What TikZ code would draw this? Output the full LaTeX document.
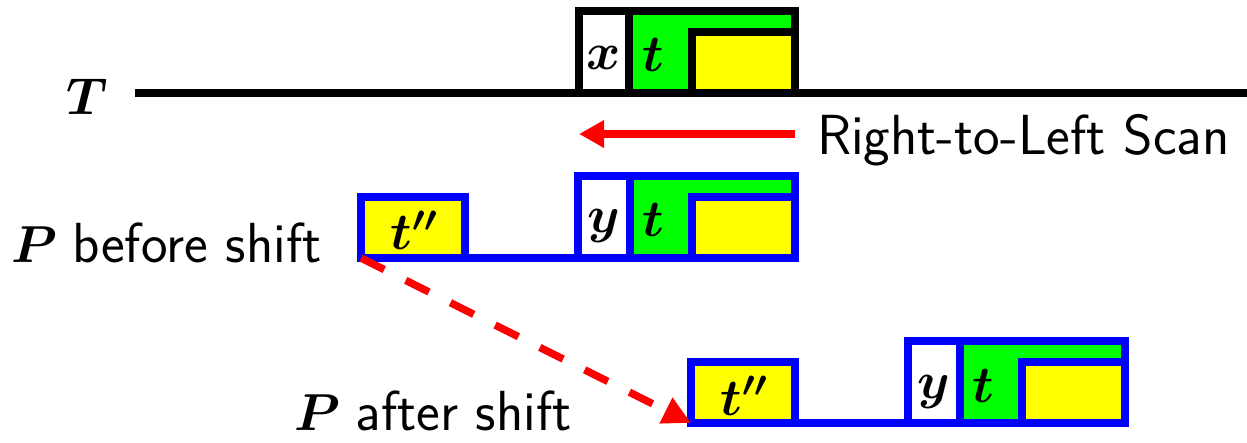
\RequirePackage{fix-cm}
\documentclass[tikz,border=0pt]{standalone}
\usepackage{fontspec}
\usepackage{bm}
\usetikzlibrary{arrows.meta}
\definecolor{pgreen}{RGB}{0,255,0}
\definecolor{pyellow}{RGB}{255,255,0}
\definecolor{pblue}{RGB}{0,0,255}
\definecolor{pred}{RGB}{255,0,0}
\newcommand{\lblfont}{\fontsize{56.5}{64}\selectfont\sffamily}
\begin{document}
\begin{tikzpicture}[x=1pt,y=-1pt,
  every node/.style={inner sep=0pt, outer sep=0pt},
  font=\fontsize{52}{62}\selectfont,
  tcellbox/.style={draw=black, line width=8pt, rectangle, anchor=north west},
  pcellbox/.style={draw=pblue, line width=8pt, rectangle, anchor=north west},
  pline/.style={draw=pblue, line width=8pt},
  tline/.style={draw=black, line width=8pt},
  scanarrow/.style={draw=pred, line width=8pt, -{Triangle[length=25pt,width=26pt]}},
  shiftarrow/.style={draw=pred, line width=7.5pt, dash pattern=on 26pt off 24pt, -{Triangle[length=28pt,width=27pt]}},
  sym/.style={anchor=base},
  lbl/.style={anchor=base west}
]
\useasboundingbox (0,0) rectangle (1247,443);

% Text T
\coordinate (Tstart) at (135,93);
\coordinate (Tend) at (1247,93);
\draw[tline] (Tstart) -- (Tend);
\node[lbl] (Tlbl) at (66,115) {$\bm{T}$};

\node[tcellbox, fill=white, minimum width=50, minimum height=82] (xcell) at (579,11) {};
\node[tcellbox, fill=pgreen, minimum width=166, minimum height=82] (ttcell) at (629,11) {};
\node[tcellbox, fill=pyellow, minimum width=103, minimum height=61] (tyel) at (692,32) {};
\node[sym] (xsym) at (604,70) {$\bm{x}$};
\node[sym] (ttsym) at (653,72) {$\bm{t}$};

% scan arrow
\coordinate (scanS) at (795,134);
\coordinate (scanE) at (579,134);
\draw[scanarrow] (scanS) -- (scanE);
\node[lbl] (scanlbl) at (817,155) {\lblfont Right-to-Left Scan};

% pattern before shift
\begin{scope}[name prefix=a-]
\node[pcellbox, fill=pyellow, minimum width=104, minimum height=61] (tpp) at (361,197) {};
\node[pcellbox, fill=white, minimum width=52, minimum height=82] (ycell) at (578,176) {};
\node[pcellbox, fill=pgreen, minimum width=165, minimum height=82] (tcell) at (630,176) {};
\node[pcellbox, fill=pyellow, minimum width=103, minimum height=61] (yel) at (692,197) {};
\draw[pline] (tpp.south east) -- (ycell.south west);
\node[sym] (tppsym) at (414,250) {$\bm{t''}$};
\node[sym] (ysym) at (604,233) {$\bm{y}$};
\node[sym] (tsym) at (653,237) {$\bm{t}$};
\end{scope}
\node[lbl] (Pbefore) at (11,263) {$\bm{P}$ \lblfont before shift};

% pattern after shift
\begin{scope}[name prefix=b-, shift={(330,165)}]
\node[pcellbox, fill=pyellow, minimum width=104, minimum height=61] (tpp) at (361,197) {};
\node[pcellbox, fill=white, minimum width=52, minimum height=82] (ycell) at (578,176) {};
\node[pcellbox, fill=pgreen, minimum width=165, minimum height=82] (tcell) at (630,176) {};
\node[pcellbox, fill=pyellow, minimum width=103, minimum height=61] (yel) at (692,197) {};
\draw[pline] (tpp.south east) -- (ycell.south west);
\node[sym] (tppsym) at (414,250) {$\bm{t''}$};
\node[sym] (ysym) at (604,233) {$\bm{y}$};
\node[sym] (tsym) at (653,237) {$\bm{t}$};
\end{scope}
\node[lbl] (Pafter) at (294,430) {$\bm{P}$ \lblfont after shift};

\draw[shiftarrow] (a-tpp.south west) -- (b-tpp.south west);
\end{tikzpicture}
\end{document}
